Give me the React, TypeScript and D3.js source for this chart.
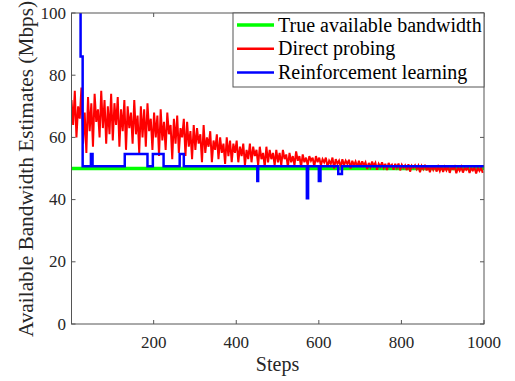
import * as d3 from "d3";

// true available bandwidth (Mbps)
const trueBandwidth = 50;
const stepRange = [1, 1000];

// direct probing estimates, one every 4 steps
const directProbing = [
  72, 64, 75, 60, 70, 66, 76, 58, 68, 55, 73, 62, 71, 57, 74, 65, 69, 60, 75, 63, 72, 58, 70, 61, 74,
  59, 71, 64, 73, 57, 69, 62, 72, 56, 70, 63, 68, 58, 72, 61, 67, 55, 70, 60, 69, 57, 71, 62, 66, 56,
  68, 60, 67, 54, 69, 59, 65, 56, 68, 61, 64, 53, 66, 58, 67, 55, 63, 60, 66, 54, 65, 57, 62, 53, 64,
  56, 63, 58, 61, 52, 64, 55, 60, 57, 62, 52, 59, 56, 61, 53, 60, 55, 58, 51.5, 60, 54, 59, 52, 58, 55,
  59, 52, 57, 54, 58, 51, 56, 53, 58, 52, 57, 54, 56, 51, 57, 53, 55, 50.5, 57, 52, 56, 53, 55, 51, 56,
  52, 55, 51, 56, 53, 54.5, 50.5, 55, 52, 54, 51, 55.5, 52.5, 54, 50.5, 54.5, 52, 53.5, 51, 54, 52.5, 53.5, 50.5, 54, 52,
  53.5, 51, 53, 52, 53.5, 50.5, 52.5, 51.5, 53.5, 50, 53, 51.5, 52.5, 50.5, 53, 51, 52.5, 51.5, 52.8, 50, 52.5, 51, 52.2, 50.5, 52.5,
  50.5, 52.3, 51, 52, 49.8, 51.8, 50.5, 52.2, 50.8, 51.8, 49.6, 51.5, 50.6, 52, 50.3, 51.5, 49.5, 51.8, 50.6, 51.2, 49.6, 51.5, 50.2, 51.6, 49.4,
  51.2, 50.2, 51, 49.5, 51.4, 49, 50.9, 50.2, 51, 49.8, 50.9, 48.8, 50.8, 49.8, 51.2, 49.4, 50.7, 48.8, 50.9, 49.6, 51, 49, 50.6, 49.2, 50.8,
  48.9, 50.5, 49.4, 50.7, 48.6, 50.4, 49.8, 50.6, 48.5, 50.3, 49.3, 50.5, 48.7, 50.2, 49.6, 50.4, 48.6, 50.1, 49.4, 50.3, 48.4, 50.2, 49.2, 50.2, 48.6,
];

// reinforcement learning estimate: steps where the value changes (stairs)
const rlSteps = [1, 22, 23, 27, 28, 47, 48, 52, 130, 185, 198, 224, 263, 273, 451, 453, 571, 574, 600, 604, 647, 656, 1000];
const rlValues = [130, 130, 86, 86, 50.7, 50.7, 54.7, 50.7, 54.7, 50.7, 54.7, 50.7, 54.7, 50.7, 46, 50.7, 40.4, 50.7, 46, 50.7, 48.2, 50.7, 50.7];

const xTicks = [200, 400, 600, 800, 1000];
const yTicks = [0, 20, 40, 60, 80, 100];

const legendItems = [
  { label: "True available bandwidth", color: "#00ff00" },
  { label: "Direct probing", color: "#ff0000" },
  { label: "Reinforcement learning", color: "#0000ff" },
];

const W = 515;
const H = 381;
const m = { left: 71.5, right: 484, top: 13, bottom: 324 };
const font = "'Liberation Serif', 'Times New Roman', serif";
const axisColor = "#555";

export default function App() {
  const x = d3.scaleLinear().domain(stepRange).range([m.left, m.right]);
  const y = d3.scaleLinear().domain([0, 100]).range([m.bottom, m.top]);

  const line = d3
    .line<[number, number]>()
    .x((d) => x(d[0]))
    .y((d) => y(d[1]));
  const stairs = d3
    .line<[number, number]>()
    .x((d) => x(d[0]))
    .y((d) => y(d[1]))
    .curve(d3.curveStepAfter);

  const greenPts: [number, number][] = [
    [stepRange[0], trueBandwidth],
    [stepRange[1], trueBandwidth],
  ];
  const redPts: [number, number][] = directProbing.map((v, i) => [1 + i * 4, v]);
  const bluePts: [number, number][] = rlSteps.map((s, i) => [s, rlValues[i]]);

  const tickLen = 4;
  const lg = { x: 233, y: 13, w: 251, h: 74 };

  return (
    <svg
      width={W}
      height={H}
      style={{ position: "absolute", left: 0, top: 0, background: "#fff" }}
      fontFamily={font}
    >
      <defs>
        <clipPath id="plotClip">
          <rect x={m.left} y={m.top} width={m.right - m.left} height={m.bottom - m.top} />
        </clipPath>
      </defs>

      <g clipPath="url(#plotClip)" fill="none">
        <path d={line(greenPts) ?? ""} stroke="#00ff00" strokeWidth={3.5} />
        <path d={line(redPts) ?? ""} stroke="#ff0000" strokeWidth={2} strokeLinejoin="miter" strokeMiterlimit={3} />
        <path d={stairs(bluePts) ?? ""} stroke="#0000ff" strokeWidth={2.5} />
      </g>

      {/* box and ticks */}
      <rect
        x={m.left}
        y={m.top}
        width={m.right - m.left}
        height={m.bottom - m.top}
        fill="none"
        stroke={axisColor}
        strokeWidth={1}
      />
      {xTicks.map((t) => (
        <g key={"x" + t}>
          <line x1={x(t)} x2={x(t)} y1={m.bottom} y2={m.bottom - tickLen} stroke={axisColor} />
          <line x1={x(t)} x2={x(t)} y1={m.top} y2={m.top + tickLen} stroke={axisColor} />
          <text x={x(t)} y={347.5} textAnchor="middle" fontSize={17} fill="#262626">
            {t}
          </text>
        </g>
      ))}
      {yTicks.map((t) => (
        <g key={"y" + t}>
          <line x1={m.left} x2={m.left + tickLen} y1={y(t)} y2={y(t)} stroke={axisColor} />
          <line x1={m.right} x2={m.right - tickLen} y1={y(t)} y2={y(t)} stroke={axisColor} />
          <text x={66} y={y(t) + 5.5} textAnchor="end" fontSize={17} fill="#262626">
            {t}
          </text>
        </g>
      ))}

      <text x={277.5} y={371} textAnchor="middle" fontSize={20} fill="#262626">
        Steps
      </text>
      <text
        transform={`translate(33,169) rotate(-90)`}
        textAnchor="middle"
        fontSize={21.3}
        fill="#262626"
      >
        Available Bandwidth Estimates (Mbps)
      </text>

      {/* legend */}
      <rect x={lg.x} y={lg.y} width={lg.w} height={lg.h} fill="#fff" stroke={axisColor} />
      {legendItems.map((it, i) => {
        const cy = 25 + i * 23.8;
        return (
          <g key={it.label}>
            <line x1={237} x2={274} y1={cy} y2={cy} stroke={it.color} strokeWidth={i === 0 ? 3.5 : 2.5} />
            <text x={278} y={cy + 6.5} fontSize={20} fill="#000">
              {it.label}
            </text>
          </g>
        );
      })}
    </svg>
  );
}
